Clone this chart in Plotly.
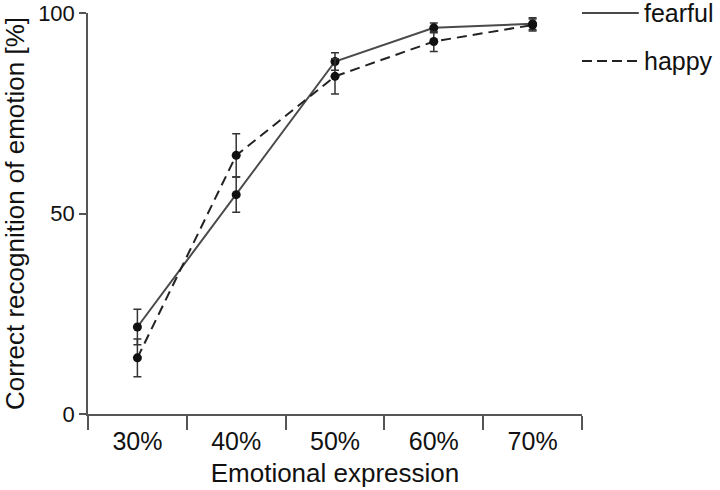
import plotly.graph_objects as go

categories = ["30%", "40%", "50%", "60%", "70%"]
fearful = [21.7, 54.7, 87.9, 96.3, 97.3]
fearful_err = [4.4, 4.4, 2.2, 1.2, 1.5]
happy = [14.0, 64.5, 84.2, 92.9, 97.0]
happy_err = [4.7, 5.4, 4.4, 2.5, 1.5]
y_ticks = [0, 50, 100]
series_names = ["fearful", "happy"]

FONT = "Liberation Sans, Arial, Helvetica, sans-serif"
LINE_COLOR = "#4a4a4a"

fig = go.Figure()
fig.add_trace(go.Scatter(
    x=categories, y=fearful, mode="lines+markers", name=series_names[0],
    line=dict(color=LINE_COLOR, width=2),
    marker=dict(color="#111111", size=9),
    error_y=dict(type="data", array=fearful_err, color="#333333", thickness=1.5, width=4),
    cliponaxis=False, showlegend=False,
))
fig.add_trace(go.Scatter(
    x=categories, y=happy, mode="lines+markers", name=series_names[1],
    line=dict(color="#222222", width=2, dash="10px,6px"),
    marker=dict(color="#111111", size=9),
    error_y=dict(type="data", array=happy_err, color="#333333", thickness=1.5, width=4),
    cliponaxis=False, showlegend=False,
))

# Manual legend (outside plot, right side)
legend_rows = [(series_names[0], 1.0, None), (series_names[1], 0.880, "10px,5px")]
for name, yp, dash in legend_rows:
    fig.add_shape(type="line", xref="paper", yref="paper",
                  x0=1.0, x1=1.115, y0=yp, y1=yp,
                  line=dict(color="#222222" if dash else LINE_COLOR, width=2,
                            dash=dash if dash else "solid"))
    fig.add_annotation(xref="paper", yref="paper", x=1.122, y=yp, text=name,
                       showarrow=False, xanchor="left", yanchor="middle",
                       font=dict(family=FONT, size=25, color="#111111"))

fig.update_layout(
    width=720, height=490,
    margin=dict(l=88, r=138, t=13, b=76),
    paper_bgcolor="white", plot_bgcolor="white",
    font=dict(family=FONT, color="#111111"),
    showlegend=False,
)
fig.update_xaxes(
    type="category", range=[-0.5, 4.5],
    showline=True, linecolor="#555555", linewidth=1.5,
    ticks="outside", tickson="boundaries", ticklen=14, tickwidth=1.5, tickcolor="#555555",
    showgrid=False, zeroline=False,
    tickfont=dict(family=FONT, size=25, color="#111111"),
    ticklabelstandoff=4,
    title=dict(text="Emotional expression", font=dict(family=FONT, size=26, color="#111111"), standoff=10),
    automargin=False,
)
fig.update_yaxes(
    range=[0, 100], tickvals=y_ticks,
    showline=True, linecolor="#555555", linewidth=1.5,
    ticks="outside", ticklen=7, tickwidth=1.5, tickcolor="#555555",
    showgrid=False, zeroline=False, ticklabeloverflow="allow",
    tickfont=dict(family=FONT, size=22, color="#111111"),
    title=dict(text="Correct recognition of emotion [%]", font=dict(family=FONT, size=26, color="#111111"), standoff=17),
    automargin=False,
)

fig.write_html(
    "out.html",
    config={"displayModeBar": False},
    post_script="document.body.style.margin='0';document.body.style.overflow='hidden';",
)
